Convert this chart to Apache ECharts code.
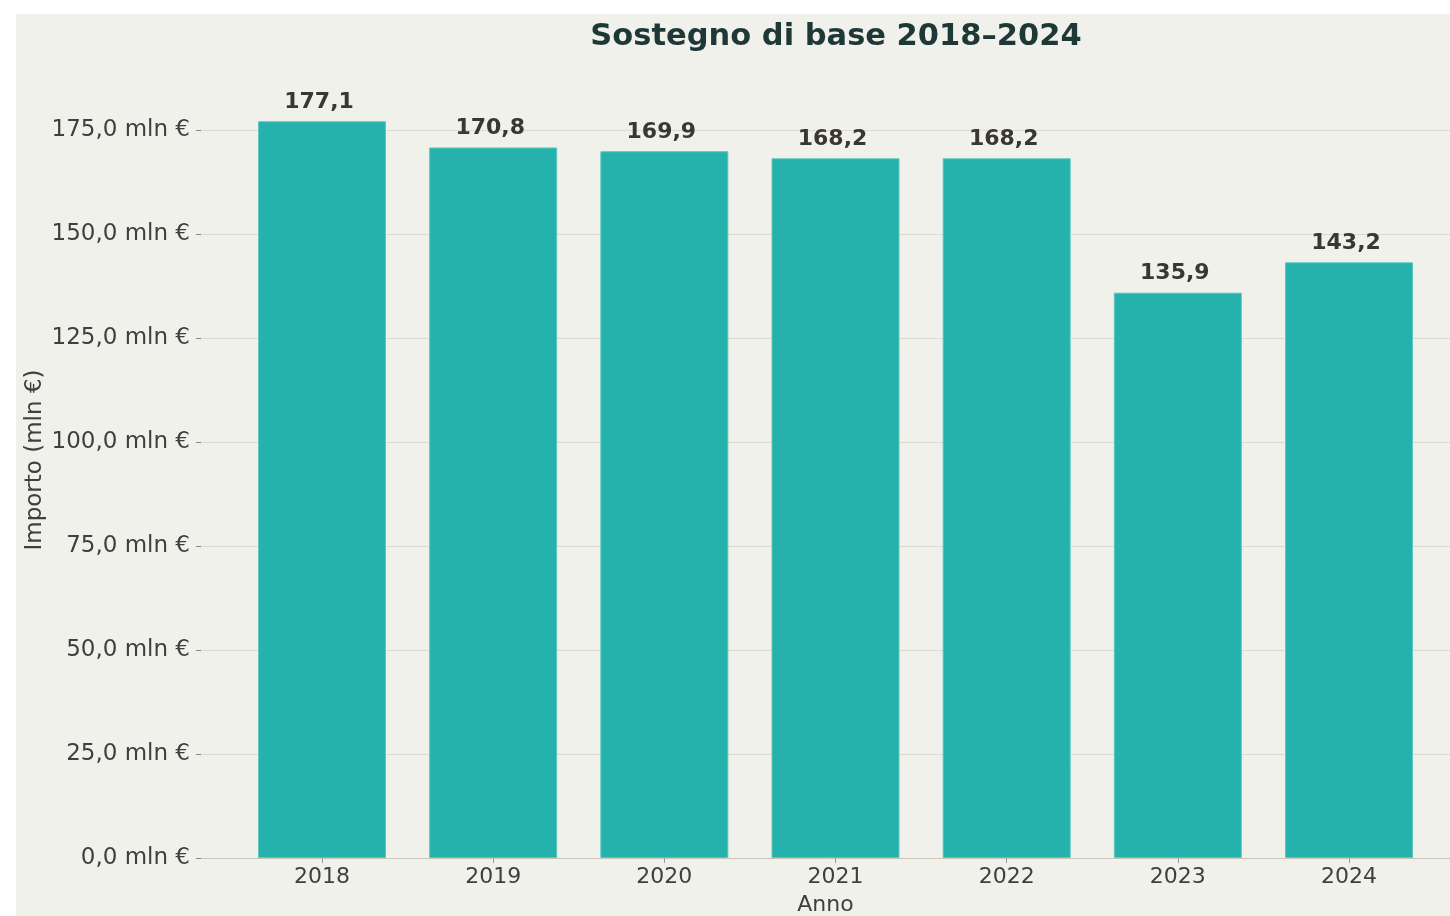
<!DOCTYPE html>
<html>
<head>
<meta charset="utf-8">
<title>Sostegno di base 2018–2024</title>
<script src="https://cdn.jsdelivr.net/npm/echarts@6/dist/echarts.min.js"></script>
<style>
  html, body { margin: 0; padding: 0; background: #ffffff; }
  #chart {
    position: absolute;
    left: 16px;
    top: 14px;
    width: 1434px;
    height: 902px;
    background: #f1f1ec;
  }
</style>
</head>
<body>
<div id="chart"></div>
<script>
// anni e importi (mln €)
const anni = [2018, 2019, 2020, 2021, 2022, 2023, 2024]
const importi = [177.1, 170.8, 169.9, 168.2, 168.2, 135.9, 143.2]

const fmt = v => v.toFixed(1).replace('.', ',')

const chart = echarts.init(document.getElementById('chart'))
chart.setOption({
  backgroundColor: '#f1f1ec',
  textStyle: { fontFamily: 'DejaVu Sans' },
  title: {
    text: 'Sostegno di base 2018–2024',
    left: 815,
    top: 3,
    textAlign: 'center',
    textStyle: {
      fontFamily: 'DejaVu Sans',
      fontSize: 30.5,
      fontWeight: 'bold',
      color: '#1e3838'
    }
  },
  grid: {
    left: 185,
    right: 0,
    top: 116,
    bottom: 58,
    outerBoundsMode: 'none',
    containLabel: false
  },
  xAxis: {
    type: 'value',
    min: 2017.293,
    max: 2024.59,
    name: 'Anno',
    nameLocation: 'middle',
    nameGap: 36,
    nameMoveOverlap: false,
    nameTextStyle: { fontSize: 22, color: '#3f3f3f' },
    axisLine: { show: true, lineStyle: { color: '#cdc5b4', width: 1 } },
    axisTick: {
      show: true,
      length: 5,
      customValues: anni,
      lineStyle: { color: '#9a9a9a' }
    },
    axisLabel: {
      customValues: anni,
      formatter: v => String(v),
      fontSize: 22,
      color: '#3f3f3f',
      margin: 8
    },
    splitLine: { show: false }
  },
  yAxis: {
    type: 'value',
    min: 0,
    max: 175,
    interval: 25,
    name: 'Importo (mln €)',
    nameLocation: 'middle',
    nameGap: 154,
    nameMoveOverlap: false,
    nameTextStyle: { fontSize: 23, color: '#3f3f3f', padding: [0, 0, 0, 68] },
    axisLine: { show: false },
    axisTick: { show: true, length: 5, lineStyle: { color: '#8a8a8a' } },
    axisLabel: {
      formatter: v => fmt(v) + ' mln €',
      fontSize: 23,
      color: '#3f3f3f',
      margin: 11
    },
    splitLine: { show: true, lineStyle: { color: '#dcdbd0', width: 1 } }
  },
  series: [
    {
      type: 'bar',
      clip: false,
      barWidth: 128,
      data: anni.map((a, i) => [a, importi[i]]),
      itemStyle: {
        color: '#25b1ac',
        borderColor: '#5fc6c1',
        borderWidth: 1
      },
      label: {
        show: true,
        position: 'top',
        distance: 8,
        offset: [-3, 0],
        formatter: p => fmt(p.value[1]),
        fontSize: 22,
        fontWeight: 'bold',
        color: '#3a3633'
      }
    }
  ]
})
</script>
</body>
</html>
